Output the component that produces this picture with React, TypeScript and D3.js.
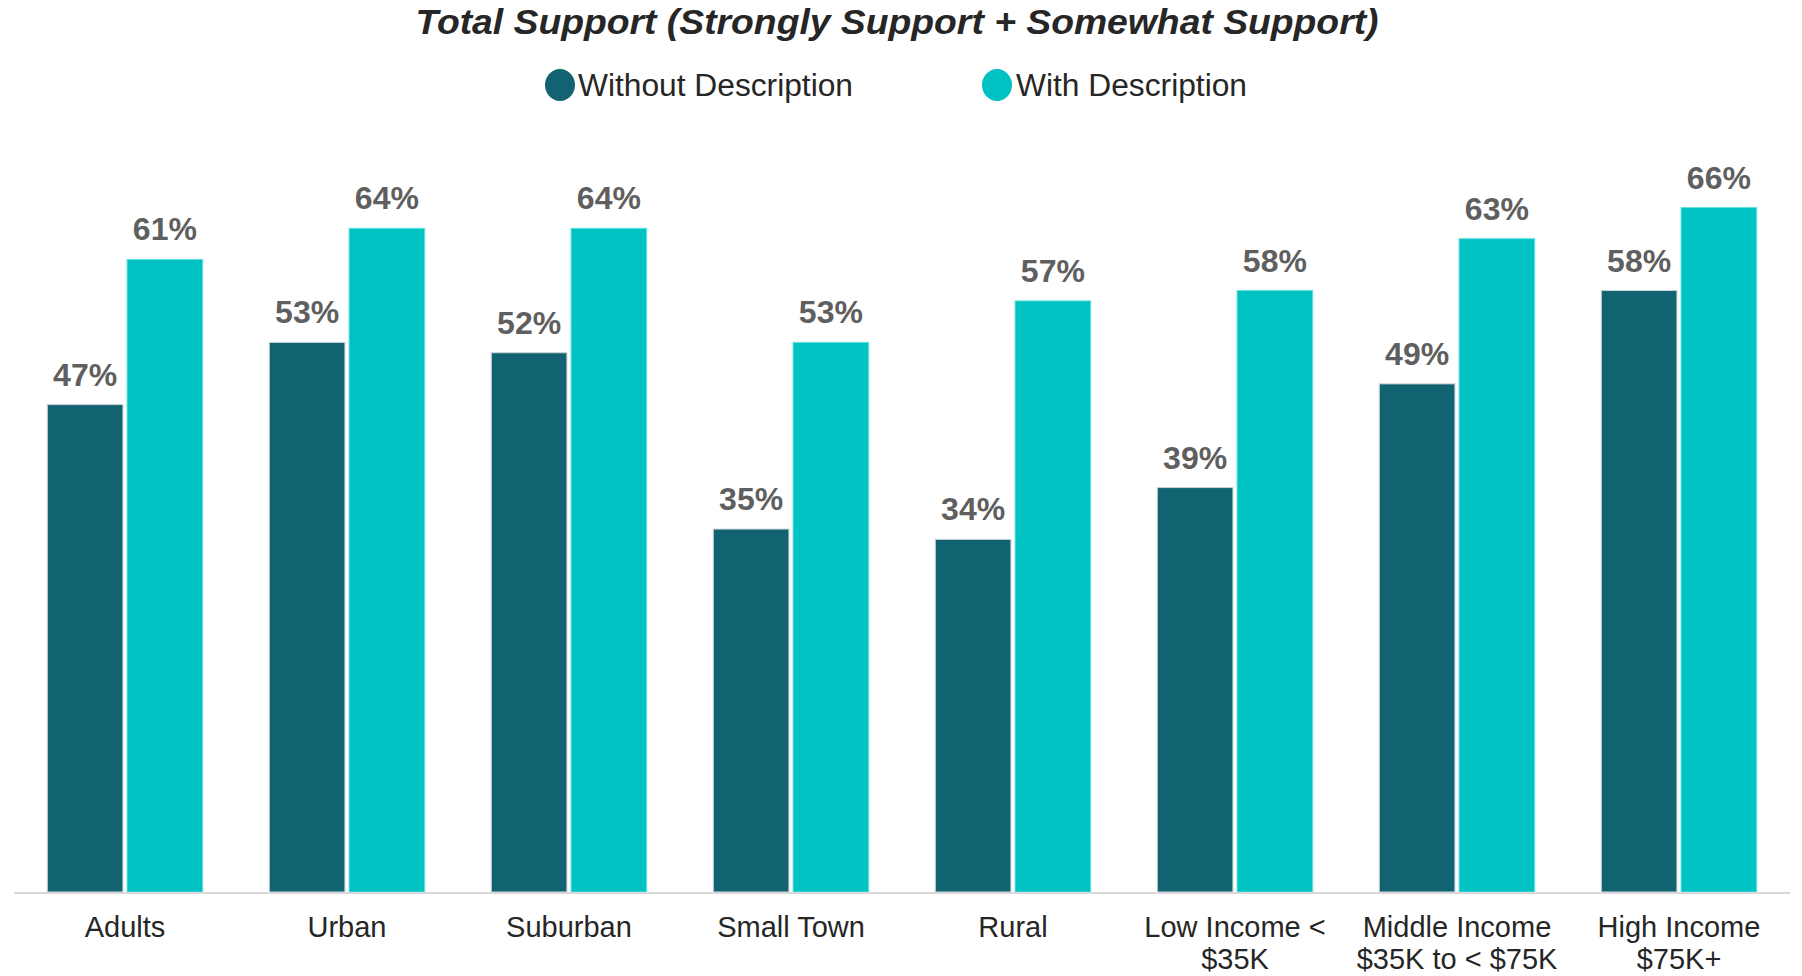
import React from "react";
import * as d3 from "d3";

const categories: string[][] = [
  ["Adults"],
  ["Urban"],
  ["Suburban"],
  ["Small Town"],
  ["Rural"],
  ["Low Income <", "$35K"],
  ["Middle Income", "$35K to < $75K"],
  ["High Income", "$75K+"],
];
const withoutDescription = [47, 53, 52, 35, 34, 39, 49, 58];
const withDescription = [61, 64, 64, 53, 57, 58, 63, 66];
const seriesNames = ["Without Description", "With Description"];
const seriesColors = ["#116371", "#00C2C2"];

const W = 1802;
const H = 976;
const FONT = "'Liberation Sans', Arial, sans-serif";

export default function App() {
  const left = 14;
  const right = 1790;
  const baseline = 892;
  const pxPerPct = 10.37;

  const x0 = d3
    .scaleBand<number>()
    .domain(categories.map((_, i) => i))
    .range([left, right])
    .paddingInner(0.3)
    .paddingOuter(0.15);
  const x1 = d3
    .scaleBand<number>()
    .domain([0, 1])
    .range([0, x0.bandwidth()])
    .paddingInner(0.052);
  const y = d3
    .scaleLinear()
    .domain([0, 100])
    .range([baseline, baseline - 100 * pxPerPct]);

  const series = [withoutDescription, withDescription];

  return (
    <svg
      width={W}
      height={H}
      style={{ position: "absolute", left: 0, top: 0, background: "#fff" }}
      fontFamily={FONT}
    >
      <text
        x={897}
        y={34}
        textAnchor="middle"
        fontSize={35}
        fontWeight="bold"
        fontStyle="italic"
        fill="#262626"
        textLength={963}
        lengthAdjust="spacingAndGlyphs"
      >
        Total Support (Strongly Support + Somewhat Support)
      </text>
      {/* legend */}
      {[
        { cx: 560, tx: 578, tl: 275 },
        { cx: 997, tx: 1016, tl: 231 },
      ].map((l, i) => (
        <g key={i}>
          <ellipse cx={l.cx} cy={85} rx={15} ry={16} fill={seriesColors[i]} />
          <text
            x={l.tx}
            y={96}
            fontSize={31}
            fill="#262626"
            textLength={l.tl}
            lengthAdjust="spacingAndGlyphs"
          >
            {seriesNames[i]}
          </text>
        </g>
      ))}
      {/* bars */}
      {categories.map((_, ci) => (
        <g key={ci} transform={`translate(${x0(ci)},0)`}>
          {series.map((s, si) => {
            const v = s[ci];
            const bx = x1(si)!;
            const bw = x1.bandwidth();
            return (
              <g key={si}>
                <rect
                  x={bx}
                  y={y(v)}
                  width={bw}
                  height={baseline - y(v)}
                  fill={seriesColors[si]}
                  stroke={si === 0 ? "#c8d3d6" : "#5fe0e0"}
                  strokeWidth={1}
                />
                <text
                  x={bx + bw / 2}
                  y={y(v) - 19}
                  textAnchor="middle"
                  fontSize={32}
                  fontWeight="bold"
                  fill="#5f5f5f"
                >
                  {v}%
                </text>
              </g>
            );
          })}
        </g>
      ))}
      {/* axis line */}
      <line x1={left} x2={right} y1={baseline + 1} y2={baseline + 1} stroke="#d9d9d9" strokeWidth={2} />
      {/* category labels */}
      {categories.map((lines, ci) => (
        <text
          key={ci}
          x={x0(ci)! + x0.bandwidth() / 2}
          y={937}
          textAnchor="middle"
          fontSize={29}
          fill="#262626"
        >
          {lines.map((ln, li) => (
            <tspan key={li} x={x0(ci)! + x0.bandwidth() / 2} dy={li === 0 ? 0 : 32}>
              {ln}
            </tspan>
          ))}
        </text>
      ))}
    </svg>
  );
}
